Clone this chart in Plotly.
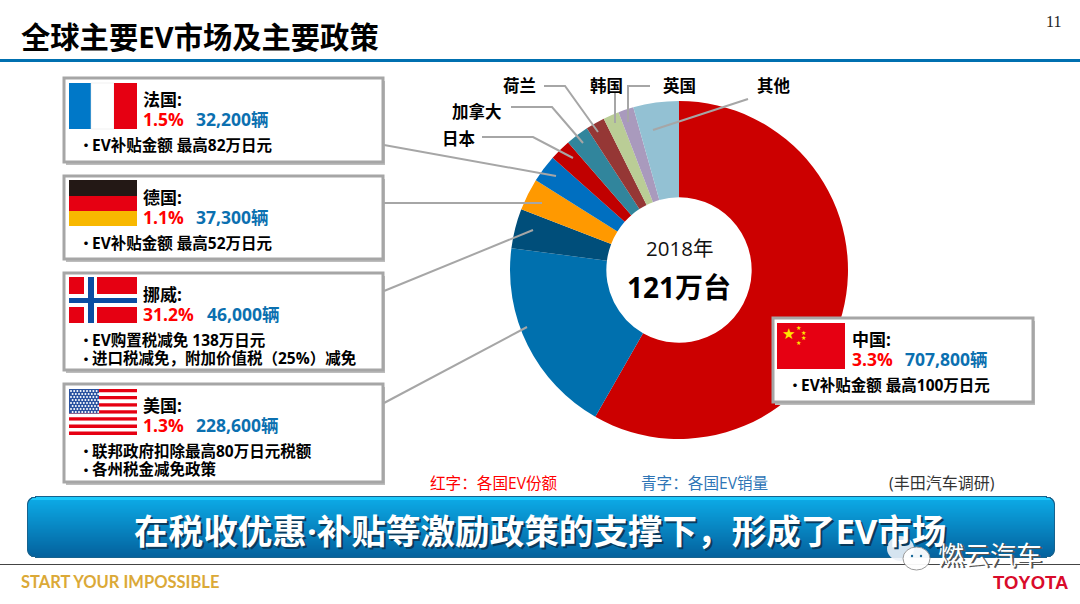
import plotly.graph_objects as go

# pie data, clockwise from 12 o'clock
markets = ['中国', '美国', '挪威', '德国', '法国', '日本', '加拿大', '荷兰', '韩国', '英国', '其他']
sales = [707800, 228600, 46000, 37300, 32200, 24900, 26900, 22200, 18500, 17800, 53000]
slice_colors = ['#CC0000', '#0070AE', '#004E7A', '#FF9900', '#006FC0', '#C00000',
                '#31859C', '#953735', '#BACD96', '#A99ABD', '#93C1D3']

# info cards
card_names = ['法国:', '德国:', '挪威:', '美国:', '中国:']
card_shares = ['1.5%', '1.1%', '31.2%', '1.3%', '3.3%']
card_sales = ['32,200辆', '37,300辆', '46,000辆', '228,600辆', '707,800辆']
card_notes = [['EV补贴金额 最高82万日元'],
              ['EV补贴金额 最高52万日元'],
              ['EV购置税减免 138万日元', '进口税减免，附加价值税（25%）减免'],
              ['联邦政府扣除最高80万日元税额', '各州税金减免政策'],
              ['EV补贴金额 最高100万日元']]

W, H = 1080, 604
CX, CY, R = 679, 270, 169
FONT = 'Open Sans, Noto Sans CJK SC'
RED = '#FF0000'
BLUE = '#0B70B0'
LINE_GREY = '#A6A6A6'

shapes = []
annotations = []


def rect(x0, y0, x1, y1, fill, line=None, width=0, layer='below'):
    shapes.append(dict(type='rect', xref='x', yref='y', x0=x0, y0=y0, x1=x1, y1=y1,
                       fillcolor=fill, layer=layer,
                       line=dict(color=line or fill, width=width)))


def oval(x0, y0, x1, y1, fill, line='rgba(0,0,0,0)', width=0):
    shapes.append(dict(type='circle', xref='x', yref='y', x0=x0, y0=y0, x1=x1, y1=y1,
                       fillcolor=fill, layer='above', line=dict(color=line, width=width)))


def note(x, y, text, size=14, color='#000000', anchor='left', bold=False, font=FONT):
    annotations.append(dict(xref='x', yref='y', x=x, y=y, xanchor=anchor, yanchor='middle',
                            text='<b>' + text + '</b>' if bold else text, showarrow=False,
                            font=dict(size=size, color=color, family=font),
                            borderpad=0, borderwidth=0))


def leader(points):
    d = 'M ' + ' L '.join('%s,%s' % p for p in points)
    shapes.append(dict(type='path', xref='x', yref='y', path=d, layer='above',
                       line=dict(color=LINE_GREY, width=2)))


def card(i, x0, y0, x1, y1, layer='below'):
    rect(x0 + 2, y0 + 3, x1 + 2, y1 + 3, '#BDBDBD', layer=layer)
    rect(x0, y0, x1, y1, '#FFFFFF', LINE_GREY, 3, layer=layer)
    tx = x0 + 79
    note(tx, y0 + 21, card_names[i], 17, bold=True)
    note(tx, y0 + 41, card_shares[i], 17.5, RED, bold=True)
    sx = tx + 10 + 10.1 * len(card_shares[i]) + 3
    note(sx, y0 + 41, card_sales[i], 17.5, BLUE, bold=True)
    first = y0 + 66.5
    for k, t in enumerate(card_notes[i]):
        note(x0 + 15, first + k * 18.5, '・', 14, bold=True)
        note(x0 + 28, first + k * 18.5, t, 15.5, bold=True)


# cards
card(0, 64, 78, 383, 162)
card(1, 64, 176, 383, 259)
card(2, 64, 273, 383, 370)
card(3, 64, 384, 383, 482)
card(4, 773, 318, 1033, 402, layer='above')

# flags
rect(69, 83, 91, 129, '#0078C8')
rect(91, 83, 114, 129, '#FFFFFF', '#E3E3E3', 0.5)
rect(114, 83, 137, 129, '#E60012')

rect(69, 180, 137, 196, '#231815')
rect(69, 196, 137, 211, '#E60012')
rect(69, 211, 137, 226, '#F8B800')

rect(69, 277, 137, 323, '#E60012')
rect(84, 277, 97, 323, '#FFFFFF')
rect(69, 294, 137, 307, '#FFFFFF')
rect(88, 277, 94, 323, '#0B4DA2')
rect(69, 298, 137, 303, '#0B4DA2')

stripe_h = 46 / 13
for s in range(13):
    rect(69, 389 + s * stripe_h, 137, 389 + (s + 1) * stripe_h,
         '#E60012' if s % 2 == 0 else '#FFFFFF')
rect(69, 389, 99, 413.5, '#2A52A0')
star_x = [71 + c * 3.2 + (r % 2) * 1.6 for r in range(8) for c in range(9)]
star_y = [391 + r * 3 for r in range(8) for c in range(9)]

rect(777, 323, 845, 369, '#E60012', layer='above')
note(788, 334, '★', 15, '#FFE600', 'center', font='DejaVu Sans')
for sx_, sy_ in [(798, 327), (803, 332), (803, 337), (798, 342)]:
    note(sx_, sy_, '★', 6, '#FFE600', 'center', font='DejaVu Sans')

# leader lines
leader([(384, 145), (556, 176)])
leader([(384, 203), (542, 203)])
leader([(384, 291), (533, 230)])
leader([(384, 403), (527, 327)])
leader([(482, 137), (533, 137), (573, 158)])
leader([(511, 107), (552, 107), (583, 143)])
leader([(544, 86), (565, 86), (598, 132)])
leader([(615, 93), (615, 123)])
leader([(650, 86), (628, 86), (628, 122)])
leader([(748, 99), (653, 130)])

# slice labels
note(519, 85, markets[7], 16.5, anchor='center', bold=True)
note(606, 85, markets[8], 16.5, anchor='center', bold=True)
note(679, 85, markets[9], 16.5, anchor='center', bold=True)
note(774, 85, markets[10], 16.5, anchor='center', bold=True)
note(477, 111, markets[6], 16.5, anchor='center', bold=True)
note(459, 138, markets[5], 16.5, anchor='center', bold=True)

# centre of the doughnut
note(CX, 248, '2018年', 20.5, '#111111', 'center')
note(CX, 287, '121万台', 28, '#000000', 'center', bold=True)

# header
note(21, 37, '全球主要EV市场及主要政策', 29.3, bold=True)
rect(0, 59, W, 62, '#0070B0')
note(1053, 21, '11', 16, '#222222', 'center', font='Liberation Serif')

# footnotes above the banner
note(430, 483, '红字：各国EV份额', 15.6, RED)
note(641, 483, '青字：各国EV销量', 15.6, '#2E75B6')
note(889, 483, '(丰田汽车调研)', 16, '#333333')

# banner, gradient built from thin strips
bx0, bx1, by0, by1 = 28, 1054, 497, 557
rad = 8
top_rgb = (13, 172, 232)
bot_rgb = (4, 98, 158)
rows = by1 - by0


def banner_row(r, x0, x1, y0, count, rgb):
    edge = min(r, count - 1 - r)
    inset = 0 if edge >= rad else rad - (rad ** 2 - (rad - edge) ** 2) ** 0.5
    rect(x0 + inset, y0 + r, x1 - inset, y0 + r + 1, 'rgb(%d,%d,%d)' % rgb)


for r in range(rows + 2):
    banner_row(r, bx0 - 1, bx1 + 1, by0 - 1, rows + 2, (22, 98, 142))
for r in range(rows):
    t = r / (rows - 1)
    c = tuple(int(top_rgb[k] + (bot_rgb[k] - top_rgb[k]) * t) for k in range(3))
    if r < 3:
        c = (28, 200, 250)
    banner_row(r, bx0, bx1, by0, rows, c)
banner = '在税收优惠·补贴等激励政策的支撑下，形成了EV市场'
note(136, 532, banner, 34.6, '#0A3A5C', bold=True)
note(134, 530, banner, 34.6, '#FFFFFF', bold=True)

# footer
rect(0, 564, W, 565, '#444444')
note(21, 582, 'START YOUR IMPOSSIBLE', 16.5, '#DBA937', bold=True, font='Lato')
note(1068, 582, 'TOYOTA', 18.5, '#D90B2B', 'right', bold=True, font='Liberation Sans')

# watermark
oval(887, 536, 914, 561, 'rgba(236,242,248,0.9)')
oval(903, 547, 930, 570, 'rgba(255,255,255,0.95)', '#9A9A9A', 1)
for ex, ey in [(896, 544), (905, 544), (912, 556), (921, 556)]:
    oval(ex - 1.2, ey - 1.2, ex + 1.2, ey + 1.2, '#1A6A9A')
note(992, 556, '燃云汽车', 26, '#555555', 'center')
note(990, 555, '燃云汽车', 26, '#FFFFFF', 'center')

fig = go.Figure()
fig.add_trace(go.Pie(labels=markets, values=sales, sort=False, direction='clockwise', rotation=0,
                     hole=0.43, textinfo='none', hoverinfo='label+value', showlegend=False,
                     marker=dict(colors=slice_colors, line=dict(width=0)),
                     domain=dict(x=[(CX - R) / W, (CX + R) / W], y=[1 - (CY + R) / H, 1 - (CY - R) / H])))
fig.add_trace(go.Scatter(x=star_x, y=star_y, mode='markers', hoverinfo='skip', showlegend=False,
                         marker=dict(size=2, color='#FFFFFF')))

fig.update_layout(width=W, height=H, margin=dict(l=0, r=0, t=0, b=0),
                  paper_bgcolor='#FFFFFF', plot_bgcolor='#FFFFFF',
                  font=dict(family=FONT), shapes=shapes, annotations=annotations,
                  xaxis=dict(range=[0, W], visible=False, fixedrange=True),
                  yaxis=dict(range=[H, 0], visible=False, fixedrange=True))

fig.write_html("out.html", config=dict(displayModeBar=False),
               post_script="document.body.style.margin='0';")
